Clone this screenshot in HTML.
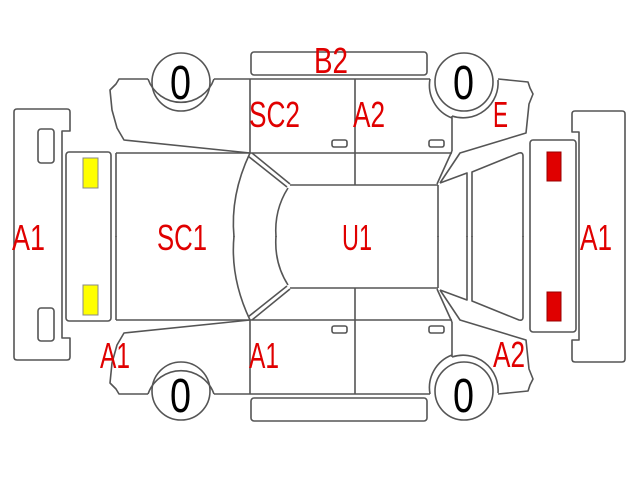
<!DOCTYPE html>
<html><head><meta charset="utf-8"><style>
html,body{margin:0;padding:0;background:#fff;}
svg{display:block;}
.l{fill:none;stroke:#555;stroke-width:1.6;stroke-linejoin:round;}
.t{fill:#e00000;font-family:"Liberation Sans",sans-serif;font-size:36px;}
.z{fill:#000;font-family:"Liberation Sans",sans-serif;font-size:48px;}
</style></head><body>
<svg width="640" height="480" viewBox="0 0 640 480" xmlns="http://www.w3.org/2000/svg">
<defs>
<g id="side">
  <path class="l" d="M148,79 L119,79 L116,84 L110,90 L112,110 L117,128 L124,140 L250,153"/>
  <path class="l" d="M148,79 A35,35 0 0 0 214,79"/>
  <circle class="l" cx="181" cy="82" r="29"/>
  <path class="l" d="M214,79 L430,79"/>
  <path class="l" d="M430,79 A35,35 0 0 0 452,118"/>
  <path class="l" d="M452,116 A35,35 0 0 0 498,80"/>
  <circle class="l" cx="464" cy="82" r="29"/>
  <rect class="l" x="251" y="52" width="176" height="23" rx="3"/>
  <path class="l" d="M250,79 L250,153 M355,79 L355,185 M452,116 L452,151"/>
  <path class="l" d="M116,153 L452,153 M290,185 L438,185"/>
  <path class="l" d="M498,79 L528,82 L530,88 L533,94 L529,104 L526,133 L460,153 L440,183"/>
  <path class="l" d="M452,151 L437,184"/>
  <path class="l" d="M440,183 L467,173 L467,237"/>
  <path class="l" d="M472,237 L472,172 L519,153 Q523,152 523,156 L523,237"/>
  <path class="l" d="M438,185 L438,237"/>
  <path class="l" d="M248,156 L287,187 M252,153 L290,184"/>
  <path class="l" d="M250,153 Q230,195 234,237"/>
  <path class="l" d="M288,188 Q274,210 276,237"/>
  <path class="l" d="M116,153 L116,237"/>
  <rect class="l" x="332" y="140" width="15" height="7" rx="2"/>
  <rect class="l" x="429" y="140" width="15" height="7" rx="2"/>
</g>
</defs>
<use href="#side"/>
<use href="#side" transform="translate(0,473) scale(1,-1)"/>
<!-- front bumper -->
<path class="l" d="M17,109 L67,109 Q70,109 70,112 L70,131 L62,131 L62,338 L70,338 L70,357 Q70,360 67,360 L17,360 Q14,360 14,357 L14,112 Q14,109 17,109 Z"/>
<rect class="l" x="38" y="129" width="16" height="34" rx="3"/>
<rect class="l" x="38" y="308" width="16" height="33" rx="3"/>
<rect class="l" x="66" y="152" width="45" height="169" rx="3"/>
<rect x="83" y="158" width="15" height="30" fill="#ffff00" stroke="#888" stroke-width="1"/>
<rect x="83" y="285" width="15" height="30" fill="#ffff00" stroke="#888" stroke-width="1"/>
<!-- rear bumper -->
<path class="l" d="M575,111 L622,111 Q625,111 625,114 L625,359 Q625,362 622,362 L575,362 Q572,362 572,359 L572,340 L579,340 L579,132 L572,132 L572,114 Q572,111 575,111 Z"/>
<rect class="l" x="530" y="140" width="46" height="192" rx="3"/>
<rect x="547" y="152" width="14" height="29" fill="#e00000" stroke="#900" stroke-width="1"/>
<rect x="547" y="292" width="14" height="29" fill="#e00000" stroke="#900" stroke-width="1"/>
<!-- labels -->
<text class="t" x="314" y="73" textLength="34" lengthAdjust="spacingAndGlyphs">B2</text>
<text class="t" x="249" y="127" textLength="51" lengthAdjust="spacingAndGlyphs">SC2</text>
<text class="t" x="353" y="127" textLength="32" lengthAdjust="spacingAndGlyphs">A2</text>
<text class="t" x="493" y="127" textLength="15" lengthAdjust="spacingAndGlyphs">E</text>
<text class="t" x="12" y="250" textLength="33" lengthAdjust="spacingAndGlyphs">A1</text>
<text class="t" x="157" y="250" textLength="50" lengthAdjust="spacingAndGlyphs">SC1</text>
<text class="t" x="342" y="250" textLength="30" lengthAdjust="spacingAndGlyphs">U1</text>
<text class="t" x="580" y="250" textLength="32" lengthAdjust="spacingAndGlyphs">A1</text>
<text class="t" x="100" y="368" textLength="30" lengthAdjust="spacingAndGlyphs">A1</text>
<text class="t" x="249" y="368" textLength="30" lengthAdjust="spacingAndGlyphs">A1</text>
<text class="t" x="493" y="367" textLength="32" lengthAdjust="spacingAndGlyphs">A2</text>
<text class="z" x="170" y="99" textLength="21" lengthAdjust="spacingAndGlyphs">0</text>
<text class="z" x="453" y="99" textLength="21" lengthAdjust="spacingAndGlyphs">0</text>
<text class="z" x="170" y="412" textLength="21" lengthAdjust="spacingAndGlyphs">0</text>
<text class="z" x="453" y="412" textLength="21" lengthAdjust="spacingAndGlyphs">0</text>
</svg>
</body></html>
